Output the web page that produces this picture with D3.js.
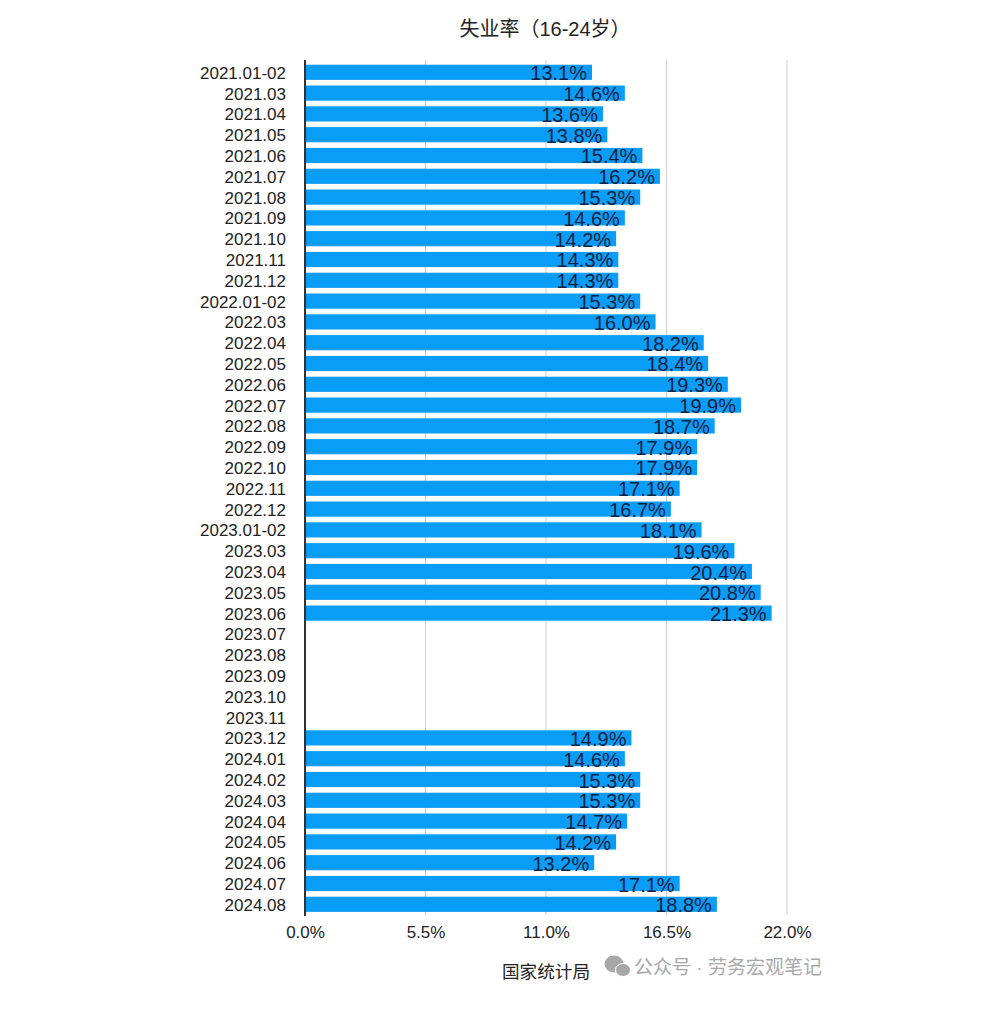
<!DOCTYPE html>
<html>
<head>
<meta charset="utf-8">
<script src="https://cdn.jsdelivr.net/npm/d3@7"></script>
<style>
  html, body { margin: 0; padding: 0; background: #fff; }
  text { font-family: "Liberation Sans", "Noto Sans CJK SC", sans-serif; }
</style>
</head>
<body>
<div id="chart"></div>
<script>
var months = [
  "2021.01-02", "2021.03", "2021.04", "2021.05", "2021.06", "2021.07", "2021.08", "2021.09", "2021.10", "2021.11", "2021.12",
  "2022.01-02", "2022.03", "2022.04", "2022.05", "2022.06", "2022.07", "2022.08", "2022.09", "2022.10", "2022.11", "2022.12",
  "2023.01-02", "2023.03", "2023.04", "2023.05", "2023.06", "2023.07", "2023.08", "2023.09", "2023.10", "2023.11", "2023.12",
  "2024.01", "2024.02", "2024.03", "2024.04", "2024.05", "2024.06", "2024.07", "2024.08"
];
// null = not published
var rates = [
  13.1, 14.6, 13.6, 13.8, 15.4, 16.2, 15.3, 14.6, 14.2, 14.3, 14.3,
  15.3, 16.0, 18.2, 18.4, 19.3, 19.9, 18.7, 17.9, 17.9, 17.1, 16.7,
  18.1, 19.6, 20.4, 20.8, 21.3, null, null, null, null, null, 14.9,
  14.6, 15.3, 15.3, 14.7, 14.2, 13.2, 17.1, 18.8
];
var xTicks = [0, 5.5, 11, 16.5, 22];

var data = months.map(function(m, i) { return { month: m, rate: rates[i] }; });

var svg = d3.select("#chart")
  .append("svg")
  .attr("width", 982)
  .attr("height", 1010)
  .style("display", "block");

var x = d3.scaleLinear()
  .domain([0, 22])
  .range([305, 787]);

var y = d3.scaleBand()
  .domain(months)
  .range([62, 914.6])
  .paddingInner(0.27)
  .paddingOuter(0.13);

// grid
svg.append("g")
  .selectAll("line")
  .data(xTicks.slice(1))
  .enter()
  .append("line")
  .attr("x1", d => x(d))
  .attr("x2", d => x(d))
  .attr("y1", 60)
  .attr("y2", 915)
  .attr("stroke", "#cfcfcf")
  .attr("stroke-width", 1);

// bars
var shown = data.filter(d => d.rate !== null);

svg.append("g")
  .selectAll("rect")
  .data(shown)
  .enter()
  .append("rect")
  .attr("x", x(0))
  .attr("y", d => y(d.month))
  .attr("width", d => x(d.rate) - x(0))
  .attr("height", y.bandwidth())
  .attr("fill", "#0a9df8");

// value labels
svg.append("g")
  .selectAll("text")
  .data(shown)
  .enter()
  .append("text")
  .attr("x", d => x(d.rate) - 5)
  .attr("y", d => y(d.month) + y.bandwidth() / 2 + 8)
  .attr("text-anchor", "end")
  .attr("font-size", 20)
  .attr("fill", "#10213f")
  .text(d => d.rate.toFixed(1) + "%");

// category axis
var yAxis = d3.axisLeft(y).tickSize(0).tickPadding(19);
var yG = svg.append("g")
  .attr("transform", "translate(" + x(0) + ",0)")
  .call(yAxis);
yG.select(".domain").attr("stroke", "#333").attr("stroke-width", 2)
  .attr("d", "M0,60V916");
yG.selectAll("text")
  .attr("font-size", 17)
  .attr("fill", "#222")
  .attr("font-family", null)
  .attr("dy", "0.38em");

// value axis
var xAxis = d3.axisBottom(x)
  .tickValues(xTicks)
  .tickSize(0)
  .tickPadding(11)
  .tickFormat(d => d.toFixed(1) + "%");
var xG = svg.append("g")
  .attr("transform", "translate(0,915)")
  .call(xAxis);
xG.select(".domain").remove();
xG.selectAll("text")
  .attr("font-size", 17)
  .attr("fill", "#222")
  .attr("font-family", null);

// title + source
svg.append("text")
  .attr("x", 545)
  .attr("y", 36)
  .attr("text-anchor", "middle")
  .attr("font-size", 20)
  .attr("fill", "#222")
  .text("失业率（16-24岁）");

svg.append("text")
  .attr("x", 546)
  .attr("y", 978)
  .attr("text-anchor", "middle")
  .attr("font-size", 17.6)
  .attr("fill", "#222")
  .text("国家统计局");

// watermark
svg.append("text")
  .attr("x", 634)
  .attr("y", 974)
  .attr("font-size", 19)
  .attr("fill", "#a8a8a8")
  .text("公众号 · 劳务宏观笔记");

var icon = svg.append("g").attr("fill", "#a8a8a8");
icon.append("ellipse").attr("cx", 614).attr("cy", 964).attr("rx", 9.5).attr("ry", 8.5);
icon.append("ellipse").attr("cx", 623).attr("cy", 970).attr("rx", 7.5).attr("ry", 6.5).attr("stroke", "#fff");
</script>
</body>
</html>
